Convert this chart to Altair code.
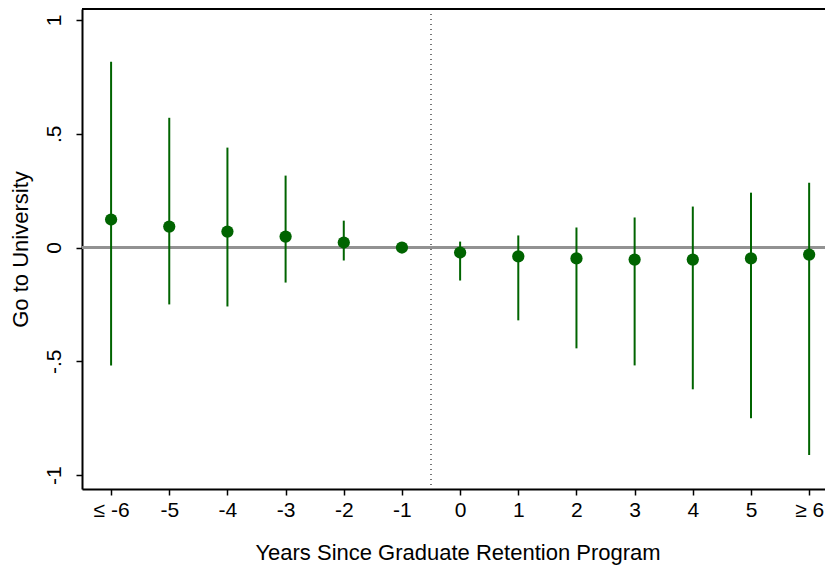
import altair as alt
import pandas as pd

x_labels = ["≤ -6", "-5", "-4", "-3", "-2", "-1", "0", "1", "2", "3", "4", "5", "≥ 6"]
coef = [0.123, 0.092, 0.070, 0.048, 0.022, 0.0, -0.022, -0.039, -0.048, -0.053, -0.053, -0.048, -0.031]
ci_low = [-0.518, -0.250, -0.259, -0.154, -0.057, None, -0.145, -0.320, -0.443, -0.518, -0.623, -0.750, -0.912]
ci_high = [0.816, 0.570, 0.439, 0.316, 0.118, None, 0.026, 0.053, 0.088, 0.132, 0.180, 0.241, 0.285]

y_tick_values = [-1, -0.5, 0, 0.5, 1]
y_tick_labels = ["-1", "-.5", "0", ".5", "1"]

df = pd.DataFrame({
    "idx": list(range(len(x_labels))),
    "label": x_labels,
    "coef": coef,
    "lo": ci_low,
    "hi": ci_high,
})

W, H = 751, 480
GREEN = "#006400"
FONT = "Liberation Sans"

x_expr = " : ".join(f"datum.value == {i} ? '{l}'" for i, l in enumerate(x_labels)) + " : ''"
y_expr = " : ".join(f"datum.value == {v} ? '{l}'" for v, l in zip(y_tick_values, y_tick_labels)) + " : ''"

x_scale = alt.Scale(domain=[-0.5, 12.41], nice=False, zero=False)
y_scale = alt.Scale(domain=[-1.061, 1.048], nice=False, zero=False)

x_axis = alt.Axis(values=list(range(len(x_labels))), labelExpr=x_expr,
                  title="Years Since Graduate Retention Program")
y_axis = alt.Axis(values=y_tick_values, labelExpr=y_expr, title="Go to University")

base = alt.Chart(df)

zero = alt.Chart(df).mark_rule(color="#929292", strokeWidth=2).encode(
    y=alt.datum(0, scale=y_scale, axis=y_axis))
vline = alt.Chart(df).mark_rule(color="#777777", strokeWidth=1, strokeDash=[1, 4]).encode(
    x=alt.datum(5.5, scale=x_scale, axis=x_axis))
bars = base.mark_rule(color=GREEN, strokeWidth=2).encode(
    x=alt.X("idx:Q", scale=x_scale, axis=x_axis),
    y=alt.Y("lo:Q", scale=y_scale, axis=y_axis), y2="hi:Q")
pts = base.mark_circle(color=GREEN, size=150, opacity=1).encode(
    x=alt.X("idx:Q", scale=x_scale, axis=x_axis),
    y=alt.Y("coef:Q", scale=y_scale, axis=y_axis))
top = alt.Chart(df).mark_rule(color="black", strokeWidth=2).encode(
    x=alt.value(0), x2=alt.value(W), y=alt.value(0))

chart = alt.layer(zero, vline, bars, pts, top).properties(
    width=W, height=H,
    autosize=alt.AutoSizeParams(type="none"),
    padding={"left": 74, "top": 1, "right": -8, "bottom": 80},
).configure_view(stroke=None).configure(background="white").configure_axis(
    grid=False, tickSize=6, tickWidth=1.5, tickColor="black", domainColor="black",
    domainWidth=2, labelFontSize=21, labelColor="black", labelFont=FONT,
    titleFontSize=22, titleFontWeight="normal", titleColor="black", titleFont=FONT,
    labelFlush=False,
).configure_axisX(
    labelPadding=4, titleY=63, titleBaseline="middle",
).configure_axisY(
    labelAngle=-90, labelAlign="center", labelBaseline="bottom", labelPadding=12,
    titleX=-62, titleBaseline="middle", titleAngle=-90,
)

chart.save("out.html", embed_options={"renderer": "svg", "actions": False})
